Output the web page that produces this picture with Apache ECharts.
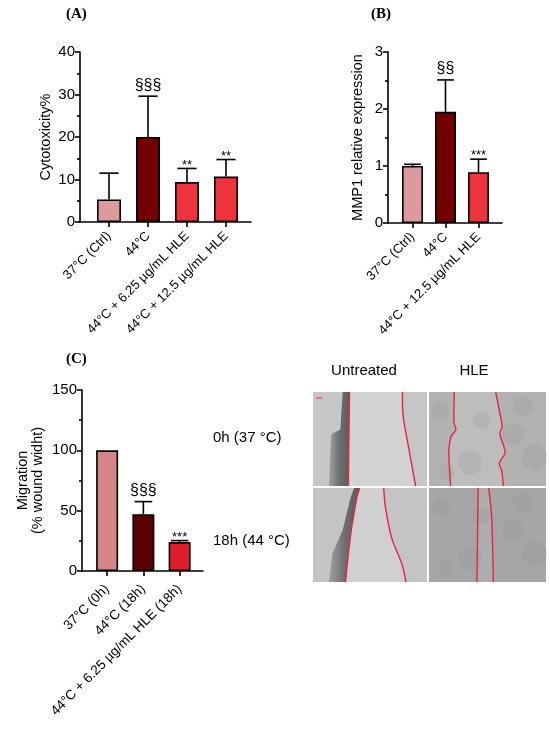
<!DOCTYPE html>
<html lang="en">
<head>
  <meta charset="UTF-8" />
  <title>Cytotoxicity, MMP1 and migration</title>
  <script src="https://cdn.jsdelivr.net/npm/echarts@6.0.0/dist/echarts.min.js"></script>
  <style>
    html, body { margin: 0; padding: 0; background: #fff; }
    #chart { width: 550px; height: 731px; }
  </style>
</head>
<body>
  <div id="chart"></div>

  <script>
    // panel A - cytotoxicity
    const catsA = ['37°C (Ctrl)', '44°C', '44°C + 6.25 µg/mL HLE', '44°C + 12.5 µg/mL HLE'];
    const valsA = [5.3, 20.0, 9.4, 10.7];
    const errA = [6.2, 9.6, 3.2, 4.0];
    const sigA = ['', '§§§', '**', '**'];
    const colorsA = ['#dd9a9c', '#730000', '#ee333a', '#ee333a'];

    // panel B - MMP1
    const catsB = ['37°C (Ctrl)', '44°C', '44°C + 12.5 µg/mL HLE'];
    const valsB = [1.0, 1.95, 0.89];
    const errB = [0.03, 0.56, 0.23];
    const sigB = ['', '§§', '***'];
    const colorsB = ['#dd9a9c', '#730000', '#ee333a'];

    // panel C - migration
    const catsC = ['37°C (0h)', '44°C (18h)', '44°C + 6.25 µg/mL HLE (18h)'];
    const valsC = [100, 47, 24];
    const errC = [0, 10.5, 1.2];
    const sigC = ['', '§§§', '***'];
    const colorsC = ['#d48585', '#5c0000', '#dd1e2a'];

    const FONT = 'Liberation Sans';
    const AX = { color: '#000', width: 1.6 };

    function frameX(grid) {
      return { type: 'value', gridIndex: grid, min: 0, max: 1,
        axisLine: { show: true, lineStyle: AX }, axisTick: { show: false },
        axisLabel: { show: false }, splitLine: { show: false } };
    }
    function frameY(grid, max, interval, name, gap) {
      return { type: 'value', gridIndex: grid, min: 0, max: max, interval: interval,
        name: name, nameLocation: 'middle', nameGap: gap,
        nameTextStyle: { fontFamily: FONT, fontSize: 14.5, color: '#000', lineHeight: 15 },
        axisLine: { show: true, lineStyle: AX },
        axisTick: { show: true, length: 5, lineStyle: AX },
        minorTick: { show: true, splitNumber: 2, length: 3, lineStyle: AX },
        axisLabel: { fontFamily: FONT, fontSize: 15, color: '#000', margin: 5 },
        splitLine: { show: false } };
    }
    function catX(grid, cats, size, margin) {
      return { type: 'category', gridIndex: grid, data: cats,
        axisLine: { show: false },
        axisTick: { show: true, alignWithLabel: true, length: 5, lineStyle: AX },
        axisLabel: { rotate: 45, fontFamily: FONT, fontSize: size, color: '#000', margin: margin, interval: 0 } };
    }
    function hiddenY(grid, max) {
      return { type: 'value', gridIndex: grid, min: 0, max: max, show: false };
    }
    function bars(axis, vals, colors, bw) {
      return { type: 'bar', xAxisIndex: axis, yAxisIndex: axis, barWidth: bw,
        data: vals.map((v, i) => ({ value: v,
          itemStyle: { color: colors[i], borderColor: '#000', borderWidth: 1.6 } })) };
    }
    function errors(axis, vals, errs, sig, bw) {
      return { type: 'custom', xAxisIndex: axis, yAxisIndex: axis, z: 5,
        data: vals.map((v, i) => [i, v, errs[i]]),
        renderItem: function (params, api) {
          const i = api.value(0), v = api.value(1), e = api.value(2);
          const p0 = api.coord([i, v]);
          const p1 = api.coord([i, v + e]);
          const cap = bw * 0.4;
          const kids = [];
          if (e > 0) {
            kids.push({ type: 'line', shape: { x1: p0[0], y1: p0[1], x2: p0[0], y2: p1[1] },
              style: { stroke: '#000', lineWidth: 1.6 } });
            kids.push({ type: 'line', shape: { x1: p0[0] - cap, y1: p1[1], x2: p0[0] + cap, y2: p1[1] },
              style: { stroke: '#000', lineWidth: 1.6 } });
          }
          const t = sig[params.dataIndex];
          if (t) {
            const star = t.indexOf('*') >= 0;
            kids.push({ type: 'text', x: p0[0], y: p1[1] - (star ? -3 : 3),
              style: { text: t, fontFamily: FONT, fontSize: star ? 13 : 16, fill: '#000',
                align: 'center', verticalAlign: 'bottom' } });
          }
          return { type: 'group', children: kids };
        } };
    }

    // micrograph panels (wound-healing photos), drawn as simple shapes
    const cells = [
      { x: 313, y: 392, w: 114, h: 94, base: '#c6c6c6', gap: '#d3d3d3',
        edges: [[[0.32, 0], [0.315, 0.5], [0.31, 1]],
                [[0.785, 0], [0.79, 0.25], [0.84, 0.6], [0.9, 1]]],
        dark: [[0.26, 0], [0.32, 0], [0.31, 1], [0.14, 1], [0.16, 0.45], [0.24, 0.4]] },
      { x: 429, y: 392, w: 117, h: 94, base: '#b2b2b2', gap: '#bdbdbd',
        edges: [[[0.216, 0], [0.214, 0.33], [0.23, 0.4], [0.19, 0.47], [0.17, 0.62], [0.175, 0.8], [0.185, 1]],
                [[0.57, 0], [0.6, 0.19], [0.625, 0.37], [0.605, 0.44], [0.64, 0.58], [0.65, 0.65], [0.6, 0.76], [0.62, 0.83], [0.635, 1]]],
        dark: null },
      { x: 313, y: 488, w: 114, h: 94, base: '#c4c4c4', gap: '#d0d0d0',
        edges: [[[0.41, 0], [0.385, 0.1], [0.33, 0.5], [0.285, 1]],
                [[0.62, 0], [0.635, 0.2], [0.69, 0.53], [0.78, 0.81], [0.815, 1]]],
        dark: [[0.36, 0], [0.41, 0], [0.385, 0.1], [0.33, 0.5], [0.285, 1], [0.14, 1], [0.17, 0.7], [0.26, 0.45], [0.33, 0.1]] },
      { x: 429, y: 488, w: 117, h: 94, base: '#a6a6a6', gap: '#aeaeae',
        edges: [[[0.42, 0], [0.415, 0.5], [0.41, 1]],
                [[0.51, 0], [0.535, 0.3], [0.55, 1]]],
        dark: null }
    ];
    const blotches = [[0.1, 0.2, 9], [0.35, 0.75, 12], [0.8, 0.15, 10], [0.9, 0.7, 13],
      [0.15, 0.85, 8], [0.72, 0.45, 11], [0.45, 0.3, 9]];

    function cellGraphic(c) {
      const pt = p => [c.x + p[0] * c.w, c.y + p[1] * c.h];
      const kids = [{ type: 'rect', shape: { x: c.x, y: c.y, width: c.w, height: c.h },
        style: { fill: c.base } }];
      kids.push({ type: 'polygon',
        shape: { points: c.edges[0].map(pt).concat(c.edges[1].slice().reverse().map(pt)) },
        style: { fill: c.gap } });
      if (c.dark) {
        kids.push({ type: 'polygon', shape: { points: c.dark.map(pt) },
          style: { fill: new echarts.graphic.LinearGradient(0, 0, 1, 0, [
            { offset: 0, color: 'rgba(120,120,120,0.5)' },
            { offset: 0.5, color: 'rgba(95,95,95,0.85)' },
            { offset: 1, color: 'rgba(80,80,80,0.9)' }]) } });
      } else {
        blotches.forEach(b => kids.push({ type: 'circle',
          shape: { cx: c.x + b[0] * c.w, cy: c.y + b[1] * c.h, r: b[2] },
          style: { fill: '#8a8a8a', opacity: 0.18 } }));
      }
      c.edges.forEach(e => kids.push({ type: 'polyline', shape: { points: e.map(pt), smooth: 0.3 },
        style: { stroke: '#f0203c', lineWidth: 1.4, fill: null } }));
      return { type: 'group', children: kids };
    }

    const sideText = (text, x, y, align) => ({ type: 'text', x: x, y: y,
      style: { text: text, fontFamily: FONT, fontSize: 15, fill: '#000', align: align, verticalAlign: 'middle' } });

    const chart = echarts.init(document.getElementById('chart'));
    chart.setOption({
      animation: false,
      title: [
        { text: '(A)', left: 66, top: 7 },
        { text: '(B)', left: 371, top: 7 },
        { text: '(C)', left: 66, top: 352 }
      ].map(t => Object.assign(t, { padding: 0,
        textStyle: { fontFamily: 'Liberation Serif', fontWeight: 'bold', fontSize: 15, color: '#000' } })),
      grid: [
        { left: 80, top: 52, width: 171, height: 170 },
        { left: 89.5, top: 52, width: 156, height: 170 },
        { left: 388, top: 52, width: 114, height: 171 },
        { left: 396, top: 52, width: 99, height: 171 },
        { left: 82, top: 390, width: 121, height: 181 },
        { left: 89, top: 390, width: 108.75, height: 181 }
      ],
      xAxis: [frameX(0), catX(1, catsA, 13, 12), frameX(2), catX(3, catsB, 13, 12),
        frameX(4), catX(5, catsC, 13.5, 16)],
      yAxis: [
        frameY(0, 40, 10, 'Cytotoxicity%', 27), hiddenY(1, 40),
        frameY(2, 3, 1, 'MMP1 relative expression', 23), hiddenY(3, 3),
        frameY(4, 150, 50, 'Migration\n(% wound widht)', 37), hiddenY(5, 150)
      ],
      series: [
        bars(1, valsA, colorsA, 24), errors(1, valsA, errA, sigA, 24),
        bars(3, valsB, colorsB, 21), errors(3, valsB, errB, sigB, 21),
        bars(5, valsC, colorsC, 22), errors(5, valsC, errC, sigC, 22)
      ],
      graphic: cells.map(cellGraphic).concat([
        sideText('0h (37 °C)', 213, 438, 'left'),
        sideText('18h (44 °C)', 213, 541, 'left'),
        sideText('Untreated', 364, 371, 'center'),
        sideText('HLE', 474, 371, 'center'),
        { type: 'line', shape: { x1: 316, y1: 398, x2: 322, y2: 398 },
          style: { stroke: '#f0203c', lineWidth: 1 } }
      ])
    });
  </script>
</body>
</html>
